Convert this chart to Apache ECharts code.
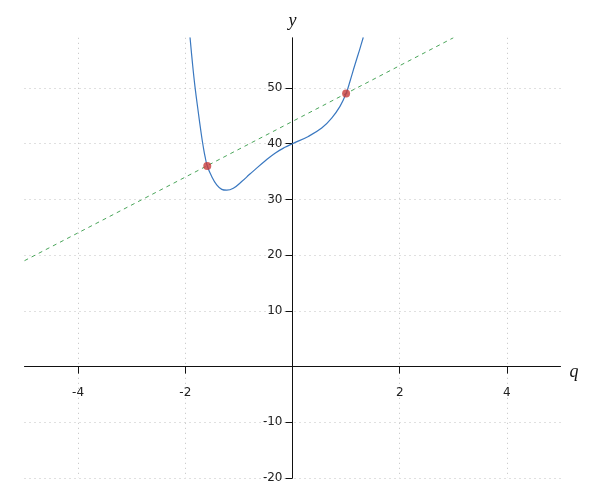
<!DOCTYPE html>
<html>
<head>
<meta charset="utf-8">
<script src="https://cdn.jsdelivr.net/npm/echarts@6/dist/echarts.min.js"></script>
<style>html,body{margin:0;padding:0;background:#fff}#c{width:600px;height:500px}</style>
</head>
<body>
<div id="c"></div>
<script>
// Curve samples
const curveQ = [-1.912, -1.866, -1.819, -1.757, -1.70, -1.664, -1.632, -1.59, -1.507, -1.414, -1.32, -1.228, -1.104, -0.948, -0.80, -0.70, -0.513, -0.326, -0.14, 0, 0.295, 0.545, 0.731, 0.886, 1.0, 1.073, 1.166, 1.25, 1.321];
const curveY = [59.1, 54.4, 50.2, 45.6, 41.6, 39.4, 37.7, 36.0, 34.1, 32.6, 31.8, 31.65, 32.0, 33.2, 34.5, 35.35, 36.9, 38.3, 39.35, 40, 41.3, 42.8, 44.6, 46.7, 49, 51.2, 54.2, 56.8, 59.1];
// Dashed straight line endpoints
const lineQ = [-5, 3];
const lineY = [19, 59];
// Intersection points
const pointQ = [-1.59, 1.0];
const pointY = [36, 49];
// Ticks
const xTicks = [-4, -2, 0, 2, 4];
const xLabels = [-4, -2, 2, 4];
const yTicks = [-20, -10, 0, 10, 20, 30, 40, 50];
const yLabels = [-20, -10, 10, 20, 30, 40, 50];
const xRange = [-5, 5];
const yRange = [-20, 59];

const zip = (a, b) => a.map((v, i) => [v, b[i]]);
const labelFont = { fontFamily: 'DejaVu Sans', fontSize: 12, color: '#222' };
const nameFont = { fontFamily: 'Liberation Serif', fontStyle: 'italic', fontSize: 18, color: '#111' };

const G = { left: 24.5, right: 39.5, top: 37.8, bottom: 22 };
const W = 600 - G.left - G.right, H = 500 - G.top - G.bottom;
// offsets so axis lines sit at the zero crossing
const xOff = -H * (0 - yRange[0]) / (yRange[1] - yRange[0]);
const yOff = -W * (0 - xRange[0]) / (xRange[1] - xRange[0]);

const chart = echarts.init(document.getElementById('c'), null, { renderer: 'canvas' });
chart.setOption({
  animation: false,
  grid: Object.assign({ outerBoundsMode: 'none', containLabel: false }, G),
  xAxis: {
    type: 'value', min: xRange[0], max: xRange[1], position: 'bottom', offset: xOff,
    name: 'q', nameLocation: 'end', nameGap: 9,
    nameTextStyle: Object.assign({}, nameFont, { verticalAlign: 'top', padding: [-3, 0, 0, 0] }),
    axisLine: { onZero: false, lineStyle: { color: '#111', width: 1 } },
    axisTick: { show: true, length: 7, customValues: xTicks, lineStyle: { color: '#111' } },
    axisLabel: Object.assign({ customValues: xLabels, margin: 20 }, labelFont),
    splitLine: { show: true, lineStyle: { color: '#c0c0c0', type: [1, 4], width: 1 } }
  },
  yAxis: {
    type: 'value', min: yRange[0], max: yRange[1], position: 'left', offset: yOff,
    name: 'y', nameLocation: 'end', nameGap: 8, nameTextStyle: Object.assign({}, nameFont, { align: 'center' }),
    axisLine: { onZero: false, lineStyle: { color: '#111', width: 1 } },
    axisTick: { show: true, length: 7, customValues: yTicks, lineStyle: { color: '#111' } },
    axisLabel: Object.assign({ customValues: yLabels, margin: 10 }, labelFont),
    splitLine: { show: true, lineStyle: { color: '#c0c0c0', type: [1, 4], width: 1 } }
  },
  series: [
    {
      type: 'line', data: zip(lineQ, lineY), symbol: 'none', clip: true,
      lineStyle: { color: '#4aa55a', width: 1, type: [4, 4] }, z: 2
    },
    {
      type: 'line', data: zip(curveQ, curveY), symbol: 'none', smooth: 0.4, clip: true,
      lineStyle: { color: '#3a78c0', width: 1.2 }, z: 3
    },
    {
      type: 'scatter', data: zip(pointQ, pointY), symbolSize: 8,
      itemStyle: { color: '#c83b3b' }, z: 4
    }
  ]
});
</script>
</body>
</html>
